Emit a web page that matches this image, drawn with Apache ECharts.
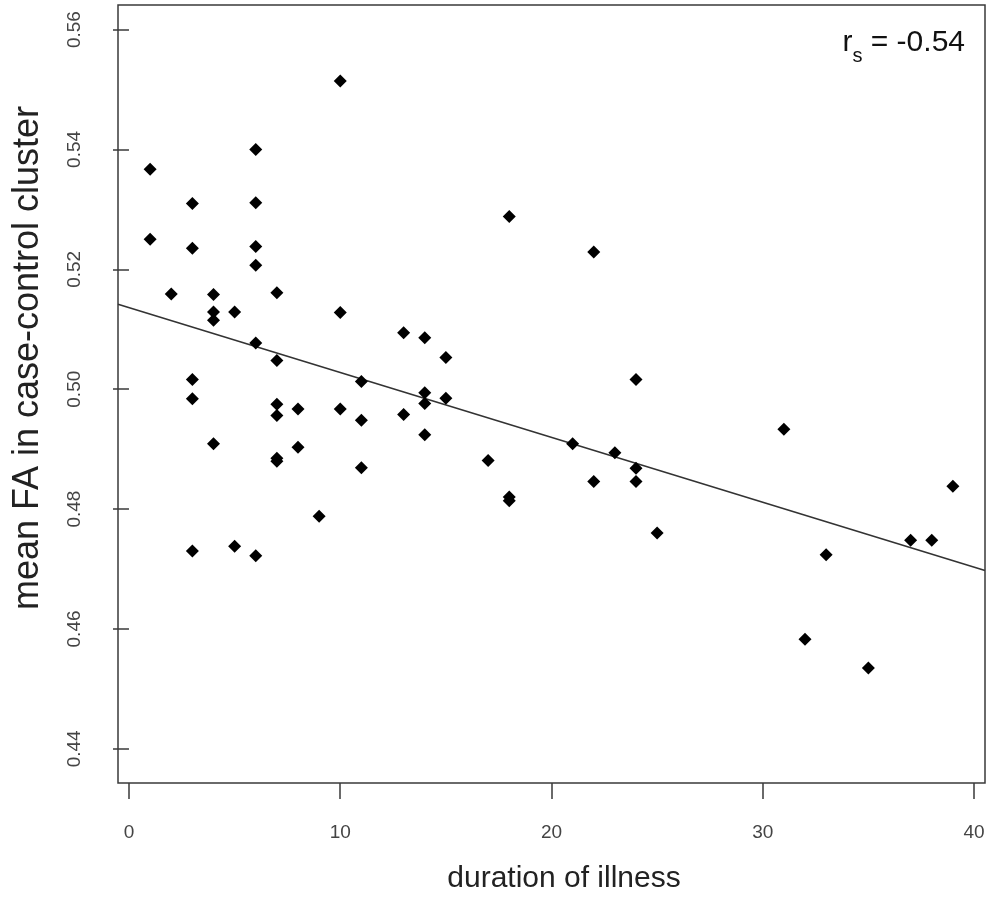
<!DOCTYPE html>
<html>
<head>
<meta charset="utf-8">
<script src="https://cdn.jsdelivr.net/npm/echarts@6/dist/echarts.min.js"></script>
<style>
html,body{margin:0;padding:0;background:#fff;}
#chart{width:990px;height:897px;}
</style>
</head>
<body>
<div id="chart"></div>
<script>
// duration of illness (years)
const durationX = [
  1, 1,
  2,
  3, 3, 3, 3, 3,
  4, 4, 4, 4,
  5, 5,
  6, 6, 6, 6, 6, 6,
  7, 7, 7, 7, 7, 7,
  8, 8,
  9,
  10, 10, 10,
  11, 11, 11,
  13, 13,
  14, 14, 14, 14,
  15, 15,
  17,
  18, 18, 18,
  21,
  22, 22,
  23,
  24, 24, 24,
  25,
  31, 32, 33, 35, 37, 38, 39
];
// mean FA in case-control cluster
const meanFA = [
  0.5367, 0.5250,
  0.5159,
  0.5310, 0.5235, 0.5016, 0.4984, 0.4730,
  0.5158, 0.5129, 0.5115, 0.4909,
  0.5129, 0.4738,
  0.5400, 0.5311, 0.5238, 0.5207, 0.5077, 0.4722,
  0.5161, 0.5048, 0.4975, 0.4956, 0.4885, 0.4880,
  0.4967, 0.4903,
  0.4788,
  0.5514, 0.5128, 0.4967,
  0.5013, 0.4948, 0.4869,
  0.5094, 0.4958,
  0.5086, 0.4994, 0.4976, 0.4924,
  0.5053, 0.4985,
  0.4881,
  0.5288, 0.4820, 0.4814,
  0.4909,
  0.5229, 0.4846,
  0.4894,
  0.5016, 0.4868, 0.4846,
  0.4760,
  0.4933, 0.4583, 0.4724, 0.4535, 0.4748, 0.4748, 0.4838
];
// tick labels
const xTicks = [0, 10, 20, 30, 40];
const yTicks = [0.44, 0.46, 0.48, 0.50, 0.52, 0.54, 0.56];
// axis ranges (R style, padded)
const xRange = [-0.52, 40.52];
const yRange = [0.4343, 0.5641];
// fitted line: y = intercept + slope * x
const regIntercept = 0.5136;
const regSlope = -0.001082;
const corrText = '-0.54';
const xTitle = 'duration of illness';
const yTitle = 'mean FA in case-control cluster';

const points = durationX.map((x, i) => [x, meanFA[i]]);
const fitLine = xRange.map(x => [x, regIntercept + regSlope * x]);

const FONT = '"Liberation Sans", Arial, sans-serif';
const chart = echarts.init(document.getElementById('chart'), null, {renderer: 'canvas'});
chart.setOption({
  animation: false,
  backgroundColor: '#ffffff',
  grid: {
    left: 118, top: 5, width: 867, height: 778,
    show: true, borderColor: '#3a3a3a', borderWidth: 1.5, backgroundColor: 'transparent'
  },
  xAxis: {
    type: 'value', min: xRange[0], max: xRange[1],
    axisLine: {show: false},
    axisTick: {show: true, length: 16, customValues: xTicks, lineStyle: {color: '#3a3a3a', width: 1.5}},
    axisLabel: {customValues: xTicks, margin: 40, fontFamily: FONT, fontSize: 19, color: '#444',
      formatter: v => String(v)},
    splitLine: {show: false}
  },
  yAxis: {
    type: 'value', min: yRange[0], max: yRange[1],
    axisLine: {show: false},
    axisTick: {show: true, length: 16, customValues: yTicks, lineStyle: {color: '#3a3a3a', width: 1.5}},
    axisLabel: {customValues: yTicks, margin: 34, rotate: 90, fontFamily: FONT, fontSize: 19, color: '#444',
      formatter: v => v.toFixed(2)},
    splitLine: {show: false}
  },
  graphic: [{
    type: 'text', right: 25, top: 28,
    style: {
      text: '{r|r}{s|s}{r| = ' + corrText + '}',
      rich: {
        r: {fontFamily: FONT, fontSize: 30, fill: '#111', verticalAlign: 'bottom'},
        s: {fontFamily: FONT, fontSize: 20, fill: '#111', verticalAlign: 'bottom', padding: [0, 0, -8, 0]}
      }
    }
  }, {
    type: 'text', x: 564, y: 879,
    style: {text: xTitle, fontFamily: FONT, fontSize: 30, fill: '#222', align: 'center', verticalAlign: 'middle'}
  }, {
    type: 'text', x: 28, y: 358, rotation: Math.PI / 2,
    style: {text: yTitle, fontFamily: FONT, fontSize: 36, fill: '#222', align: 'center', verticalAlign: 'middle'}
  }],
  series: [{
    type: 'line', data: fitLine, symbol: 'none', silent: true,
    lineStyle: {color: '#333', width: 1.6}, z: 2
  }, {
    type: 'scatter', data: points, symbol: 'diamond', symbolSize: [13, 13],
    itemStyle: {color: '#000', opacity: 1}, z: 3
  }]
});
</script>
</body>
</html>
